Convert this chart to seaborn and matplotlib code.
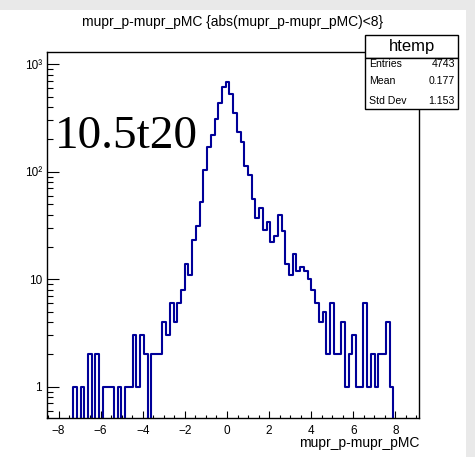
import numpy as np
import pandas as pd
import matplotlib
matplotlib.use("Agg")
import matplotlib.pyplot as plt
import seaborn as sns
from matplotlib.patches import Rectangle
from matplotlib.ticker import MultipleLocator, FixedLocator, FixedFormatter, LogLocator, NullFormatter

# ---- data ----
x_min = -8.551
x_max = 9.137
n_bins = 100
counts = [
    0, 0, 0, 0, 0, 0, 0, 1, 0, 1,        # 0-9
    0, 2, 0, 2, 0, 1, 1, 1, 0, 1,        # 10-19
    0, 1, 1, 3, 1, 3, 2, 0, 2, 2,        # 20-29
    2, 4, 3, 6, 4, 6, 8, 14, 11, 23,     # 30-39
    31, 52, 104, 169, 222, 308, 437, 610, 688, 528,   # 40-49
    349, 236, 189, 112, 93, 56, 37, 46, 29, 34,       # 50-59
    22, 25, 40, 28, 14, 11, 17, 12, 13, 12,           # 60-69
    10, 8, 6, 4, 5, 2, 6, 2, 2, 4,       # 70-79
    1, 2, 3, 1, 1, 6, 1, 2, 1, 2,        # 80-89
    2, 4, 1, 0, 0, 0, 0, 0, 0, 0,        # 90-99
]
y_ticks = [1, 10, 100, 1000]
y_tick_labels = ["1", "10", "10\u00b2", "10\u00b3"]
title_text = "mupr_p-mupr_pMC {abs(mupr_p-mupr_pMC)<8}"
x_label = "mupr_p-mupr_pMC"
stats_name = "htemp"
stats_rows = [("Entries", "4743"), ("Mean", "0.177"), ("Std Dev", "1.153")]
overlay_text = "10.5t20"

edges = list(np.linspace(x_min, x_max, n_bins + 1))
centers = [0.5 * (a + b) for a, b in zip(edges[:-1], edges[1:])]
df = pd.DataFrame({"x": centers, "n": counts})

sns.set_theme(style="white")
plt.rcParams["font.family"] = ["Liberation Sans", "DejaVu Sans"]

W, H = 475, 457
fig = plt.figure(figsize=(W / 100, H / 100), dpi=100)
fig.patch.set_facecolor("#e9e9e9")
fig.patches.append(Rectangle((0, 0), 466 / W, 1 - 10 / H, transform=fig.transFigure,
                             facecolor="white", edgecolor="none", zorder=-10))

def fx(px):
    return px / W

def fy(py):
    return 1 - py / H

L, R, T, B = 47, 419.3, 52.3, 417.7
ax = fig.add_axes([fx(L), fy(B), (R - L) / W, (B - T) / H])
ax.set_zorder(1)
ax.set_facecolor("white")

sns.histplot(data=df, x="x", weights="n", bins=edges, element="step", fill=False,
             color="#000099", linewidth=1.5, ax=ax)
ax.set_yscale("log")
ax.set_xlim(x_min, x_max)
ax.set_ylim(0.515, 1293)
ax.set_xlabel("")
ax.set_ylabel("")

for s in ax.spines.values():
    s.set_visible(True)
    s.set_color("black")
    s.set_linewidth(1.0)

ax.xaxis.set_major_locator(MultipleLocator(2))
ax.xaxis.set_minor_locator(MultipleLocator(0.5))
ax.yaxis.set_major_locator(FixedLocator(y_ticks))
ax.yaxis.set_major_formatter(FixedFormatter(y_tick_labels))
ax.yaxis.set_minor_locator(LogLocator(base=10, subs=np.arange(2, 10)))
ax.yaxis.set_minor_formatter(NullFormatter())

ax.tick_params(which="both", direction="in", colors="black", bottom=True, left=True,
               top=False, right=False, labelsize=8.5)
ax.tick_params(axis="x", which="major", length=5, width=0.8, pad=5)
ax.tick_params(axis="x", which="minor", length=2.5, width=0.8)
ax.tick_params(axis="y", which="major", length=8.5, width=0.8, pad=3.5)
ax.tick_params(axis="y", which="minor", length=4.3, width=0.8)

# title and x label
fig.text(fx(233), fy(26), title_text, ha="center", va="baseline", fontsize=10, color="black")
fig.text(fx(419), fy(446.5), x_label, ha="right", va="baseline", fontsize=10, color="black")

# big overlay text
fig.text(fx(55), fy(148.3), overlay_text, ha="left", va="baseline", fontsize=34,
         family=["Liberation Serif", "DejaVu Serif"], color="black", zorder=6)

# stats box
bx0, bx1 = 365, 458.3
hy0, hy1, sy1 = 35, 58.3, 109.3
fig.patches.append(Rectangle((fx(bx0), fy(hy1)), (bx1 - bx0) / W, (hy1 - hy0) / H,
                             transform=fig.transFigure, facecolor="white", edgecolor="black",
                             linewidth=1.0, zorder=5))
fig.patches.append(Rectangle((fx(bx0), fy(sy1)), (bx1 - bx0) / W, (sy1 - hy1) / H,
                             transform=fig.transFigure, facecolor="white", edgecolor="black",
                             linewidth=1.0, zorder=5))
fig.text(fx((bx0 + bx1) / 2), fy(51.0), stats_name, ha="center", va="baseline", fontsize=12,
         color="black", zorder=7)
row_y = [67.0, 84.3, 104.3]
for (lab, val), yy in zip(stats_rows, row_y):
    fig.text(fx(369), fy(yy), lab, ha="left", va="baseline", fontsize=7.6, color="black", zorder=7)
    fig.text(fx(455), fy(yy), val, ha="right", va="baseline", fontsize=7.6, color="black", zorder=7)

fig.savefig("out.png", dpi=100, facecolor=fig.get_facecolor())
